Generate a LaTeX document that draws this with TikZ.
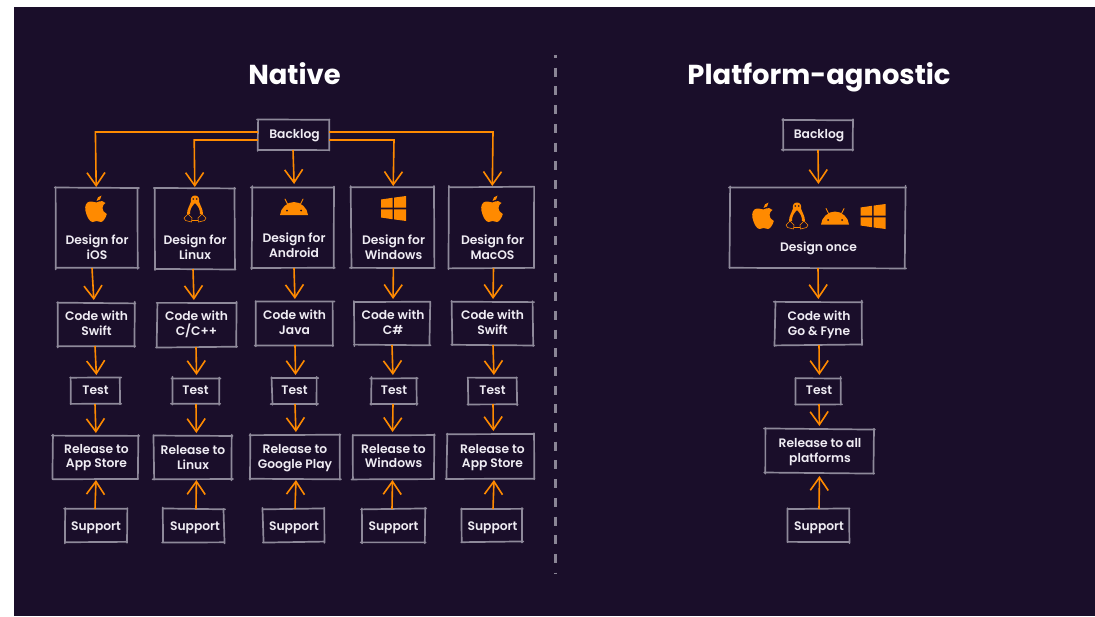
\documentclass[tikz,border=0pt]{standalone}
\usepackage{fontspec}
\setmainfont{Poppins}[UprightFont=* SemiBold,BoldFont=* Bold]
\usetikzlibrary{arrows.meta}
\definecolor{bgc}{HTML}{1A0E2A}
\definecolor{org}{HTML}{FF8A00}
\definecolor{edgec}{HTML}{8E899A}
\definecolor{divc}{HTML}{8A8595}
\definecolor{txtc}{HTML}{EFECF3}
\tikzset{
  x=1pt,y=-1pt,
  lbl/.style={inner sep=0pt,outer sep=0pt,text=txtc,align=center,font=\fontsize{12.3}{14.6}\selectfont},
  hold/.style={inner sep=0pt,outer sep=0pt},
  skline/.style={draw=edgec,line width=1.7pt,line cap=round},
  arr/.style={draw=org,line width=1.6pt,shorten >=3pt,-{Straight Barb[length=13pt,width=18pt,line width=1.6pt]}},
  ttl/.style={inner sep=0pt,anchor=base,text=white,font=\fontsize{27.4}{32}\selectfont\bfseries},
  applelogo/.pic={
    \fill[org] (0.5,-6.5) .. controls (-2,-6.5) and (-3.5,-8) .. (-6,-7.5) .. controls (-10,-7) and (-11.5,-3) .. (-10.5,2) .. controls (-9.5,7) and (-6.5,13) .. (-3.5,13) .. controls (-2,13) and (-1,12) .. (0.5,12) .. controls (2,12) and (3,13) .. (5,13) .. controls (7.5,13) and (10,8) .. (10.8,5) .. controls (8,4) and (6.5,1) .. (6.5,-1) .. controls (6.5,-3.5) and (8,-5) .. (9.5,-6) .. controls (7.5,-8) and (5,-8.5) .. (3,-7.5) .. controls (2,-7) and (1.5,-6.5) .. (0.5,-6.5) -- cycle;
    \fill[org] (0.5,-8) .. controls (0.5,-11) and (3,-13) .. (5.5,-13.5) .. controls (5.5,-10.5) and (3.5,-8) .. (0.5,-8) -- cycle;
  },
  tuxlogo/.pic={
    \fill[org] (0,-13.5) .. controls (-3.5,-13.5) and (-4.5,-10.5) .. (-4.2,-7) .. controls (-5,-4) and (-8,0) .. (-8,5) -- (-5,5) .. controls (-5,1) and (-4,-2) .. (0,-6) .. controls (4,-2) and (5,1) .. (5,5) -- (8,5) .. controls (8,0) and (5,-4) .. (4.2,-7) .. controls (4.5,-10.5) and (3.5,-13.5) .. (0,-13.5) -- cycle;
    \fill[bgc] (-1.8,-10) circle (0.9) (1.8,-10) circle (0.9);
    \draw[org,line width=0.6pt,fill=bgc,line join=round] (-7,5) -- (-11,9) -- (-9.5,11.5) -- (-3.5,13) -- (-3,9) -- cycle;
    \draw[org,line width=0.6pt,fill=bgc,line join=round] (7,5) -- (11,9) -- (9.5,11.5) -- (3.5,13) -- (3,9) -- cycle;
    \draw[org,line width=0.6pt] (-3.2,11) -- (3.2,11);
  },
  droidlogo/.pic={
    \fill[org] (-14,8) .. controls (-13.5,1) and (-7,-5) .. (0,-5) .. controls (7,-5) and (13.5,1) .. (14,8) -- cycle;
    \draw[org,line width=0.9pt,line cap=round] (-6.5,-3) -- (-9,-8) (6.5,-3) -- (9,-8);
    \fill[bgc] (-7,3.5) circle (1) (7,3.5) circle (1);
  },
  winlogo/.pic={
    \fill[org] (-12.5,-9) -- (-1,-10.7) -- (-1,-0.8) -- (-12.5,-0.8) -- cycle;
    \fill[org] (0.6,-10.9) -- (12.5,-12.5) -- (12.5,-0.8) -- (0.6,-0.8) -- cycle;
    \fill[org] (-12.5,0.8) -- (-1,0.8) -- (-1,10.7) -- (-12.5,9) -- cycle;
    \fill[org] (0.6,0.8) -- (12.5,0.8) -- (12.5,12.5) -- (0.6,10.9) -- cycle;
  },
}
\pgfmathsetseed{11}
% [text offset dx,dy], name, x1, y1, x2, y2, text
\newcommand{\bx}[7][0,0]{%
  \node[hold,minimum width={(#5)-(#3)},minimum height={(#6)-(#4)}] (#2) at ({((#3)+(#5))/2},{((#4)+(#6))/2}) {};
  \node[lbl,shift={(#1)}] (#2-t) at (#2.center) {#7};
  \draw[skline] ([xshift={-1.5*rnd},yshift={1.2*rnd-.6}]#2.north west) -- ([xshift={1.5*rnd},yshift={1.2*rnd-.6}]#2.north east);
  \draw[skline] ([xshift={-1.5*rnd},yshift={1.2*rnd-.6}]#2.south west) -- ([xshift={1.5*rnd},yshift={1.2*rnd-.6}]#2.south east);
  \draw[skline] ([yshift={1.5*rnd},xshift={1.2*rnd-.6}]#2.north west) -- ([yshift={-1.5*rnd},xshift={1.2*rnd-.6}]#2.south west);
  \draw[skline] ([yshift={1.5*rnd},xshift={1.2*rnd-.6}]#2.north east) -- ([yshift={-1.5*rnd},xshift={1.2*rnd-.6}]#2.south east);
}
% from node, x at its foot, to node, x at its head
\newcommand{\dn}[4]{\draw[arr] (#2,0 |- #1.south) -- (#4,0 |- #3.north);}
\newcommand{\up}[4]{\draw[arr,shorten >=1pt] (#2,0 |- #1.north) -- (#4,0 |- #3.south);}
% fan-out: start anchor, x at the corner, end node, x at its head
\newcommand{\fan}[4]{\draw[arr,shorten >=1pt] (#1) -- (#2,0 |- #1) -- (#4,0 |- #3.north);}
\begin{document}
\begin{tikzpicture}
\useasboundingbox (0,0) rectangle (1095,616);
\fill[white] (0,0) rectangle (1095,616);
\fill[bgc] (14,7) rectangle (1095,616);

\node[ttl] (tn) at (294.5,84) {Native};
\node[ttl] (tp) at (819,84) {Platform-agnostic};
\coordinate (da) at (555.6,55);
\coordinate (db) at (555.6,573);
\draw[divc,line width=3pt,dash pattern=on 9pt off 9.7pt,dash phase=6pt] (da) -- (db);

% Native column nodes
\bx[1,1]{bl}{258}{120}{329}{150}{Backlog}
\bx[0,19.5]{d1}{56}{188}{138}{268}{Design for\\iOS}
\bx[0,19]{d2}{155}{188}{235}{269}{Design for\\Linux}
\bx[1,17.5]{d3}{252}{187}{334}{268}{Design for\\Android}
\bx[1,19.5]{d4}{351}{187}{434}{268}{Design for\\Windows}
\bx[1,19.5]{d5}{449}{187}{534}{268}{Design for\\MacOS}
\bx[0,-1]{c1}{58}{303}{135}{346}{Code with\\Swift}
\bx[0,-1]{c2}{157}{303}{236}{347}{Code with\\C/C++}
\bx[0,-1]{c3}{256}{302}{333}{345}{Code with\\Java}
\bx[1,-1]{c4}{354}{302}{430}{345}{Code with\\C\#}
\bx[0,-1]{c5}{452}{302}{533}{345}{Code with\\Swift}
\bx[0,-1]{t1}{71}{378}{120}{404}{Test}
\bx[0,-1]{t2}{172}{378}{219}{404}{Test}
\bx[0,-1]{t3}{272}{378}{317}{404}{Test}
\bx[0,-1]{t4}{371}{378}{417}{404}{Test}
\bx[0,-1]{t5}{468}{378}{517}{404}{Test}
\bx[1,0]{r1}{53}{436}{138}{479}{Release to\\App Store}
\bx[0,0]{r2}{154}{436}{232}{479}{Release to\\Linux}
\bx[0,1]{r3}{250}{435}{340}{479}{Release to\\Google Play}
\bx[0,-1]{r4}{353}{435}{434}{479}{Release to\\Windows}
\bx[2,1]{r5}{447}{434}{534}{479}{Release to\\App Store}
\bx[0,2]{s1}{65}{509}{127}{542}{Support}
\bx[1.5,2]{s2}{163}{509}{224}{542}{Support}
\bx[0.5,2]{s3}{263}{509}{324}{542}{Support}
\bx[0,2]{s4}{362}{509}{425}{542}{Support}
\bx[0.5,2]{s5}{462}{509}{522}{542}{Support}

% Platform-agnostic nodes
\bx[1,1]{pb}{783}{120}{853}{150}{Backlog}
\bx[1,20.5]{pd}{730}{187}{905}{268}{Design once}
\bx[0.5,1]{pc}{775}{302}{862}{345}{Code with\\Go \& Fyne}
\bx[0.5,-1]{pt}{796}{378}{841}{404}{Test}
\bx[0.5,1]{pr}{765}{429}{874}{473}{Release to all\\platforms}
\bx[0.5,2]{ps}{788}{509}{849}{542}{Support}

% Icons
\pic at (96,209) {applelogo};
\pic at (195,209) {tuxlogo};
\pic at (294,207) {droidlogo};
\pic at (393.5,208.5) {winlogo};
\pic at (492,209) {applelogo};
\pic at (763,216) {applelogo};
\pic at (797,216) {tuxlogo};
\pic at (835,216.5) {droidlogo};
\pic at (873,216.5) {winlogo};

% Backlog fan-out
\coordinate (fa) at ([yshift=3pt]bl.west);
\coordinate (fb) at ([yshift=-5pt]bl.west);
\coordinate (fc) at ([yshift=-5pt]bl.east);
\coordinate (fd) at ([yshift=3pt]bl.east);
\fan{fa}{95.4}{d1}{96.2}
\fan{fb}{194.2}{d2}{194.8}
\dn{bl}{293}{d3}{294.2}
\fan{fc}{394}{d4}{393.2}
\fan{fd}{493}{d5}{492.3}

% Design to Code
\dn{d1}{92}{c1}{94}
\dn{d2}{193}{c2}{194}
\dn{d3}{294}{c3}{295}
\dn{d4}{393.4}{c4}{393}
\dn{d5}{493.5}{c5}{493}
% Code to Test
\dn{c1}{95}{t1}{96.5}
\dn{c2}{196}{t2}{196.6}
\dn{c3}{295}{t3}{295.6}
\dn{c4}{392}{t4}{393}
\dn{c5}{493}{t5}{494}
% Test to Release
\dn{t1}{95}{r1}{96}
\dn{t2}{196}{r2}{196.4}
\dn{t3}{295}{r3}{296}
\dn{t4}{393}{r4}{392.5}
\dn{t5}{493}{r5}{493.4}
% Support to Release
\up{s1}{95}{r1}{96}
\up{s2}{196}{r2}{196.4}
\up{s3}{295}{r3}{296}
\up{s4}{392}{r4}{392.5}
\up{s5}{493}{r5}{494}
% Platform-agnostic connectors
\dn{pb}{818}{pd}{818.5}
\dn{pd}{818}{pc}{818.4}
\dn{pc}{819}{pt}{819.4}
\dn{pt}{819}{pr}{819.5}
\draw[arr,shorten >=3pt] (819,0 |- ps.north) -- (819.5,0 |- pr.south);
\end{tikzpicture}
\end{document}
